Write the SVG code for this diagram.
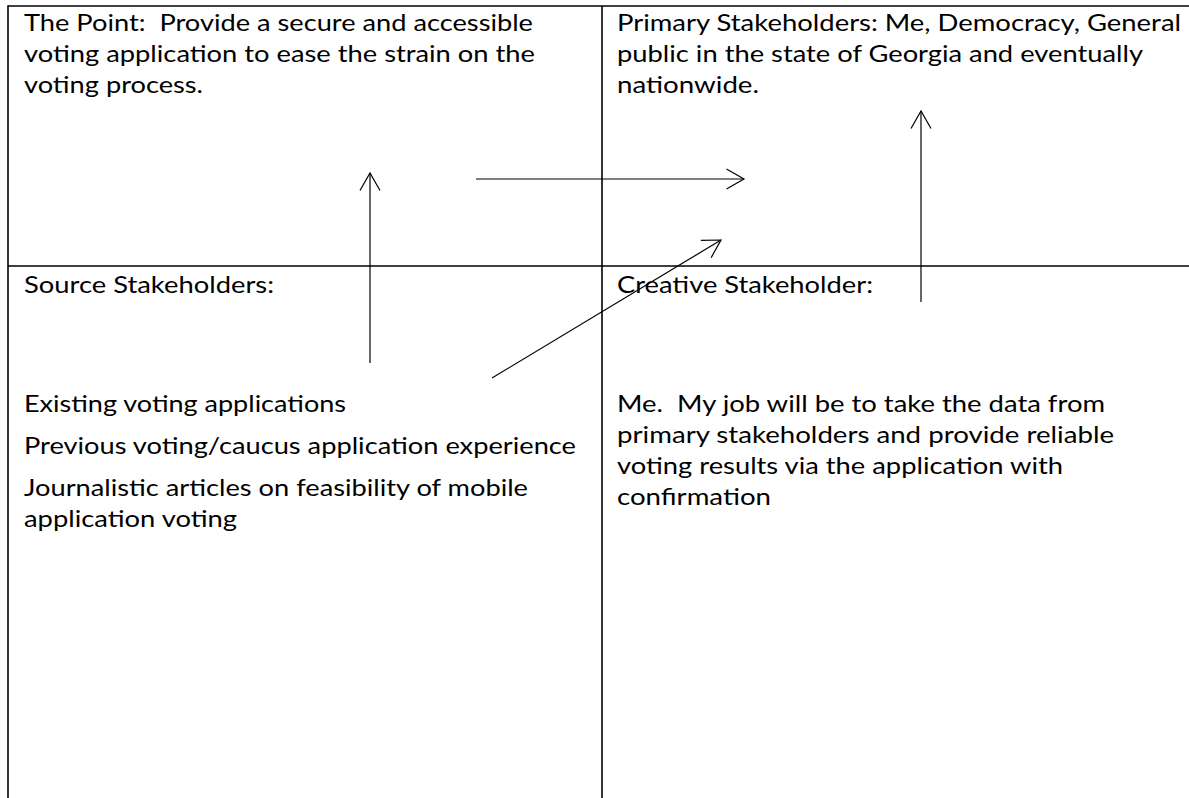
<svg xmlns="http://www.w3.org/2000/svg" width="1189" height="798" viewBox="0 0 1189 798">
  <style>
    .grid { stroke: #000; stroke-width: 1.6; fill: none; }
    .txt { font-family: Lato, "Open Sans", "Liberation Sans", sans-serif; font-size: 23.5px; fill: #000; }
    .arrow { stroke: #000; stroke-width: 1.2; fill: none; marker-end: url(#open); }
  </style>
  <defs>
    <marker id="open" markerUnits="userSpaceOnUse" markerWidth="24" markerHeight="24" viewBox="-20 -12 24 24" refX="0" refY="0" orient="auto" overflow="visible">
      <path d="M-17.5,-10 L0,0 L-17.5,10" fill="none" stroke="#000" stroke-width="1.2"/>
    </marker>
  </defs>
  <rect width="1189" height="798" fill="#fff"/>
  <g id="table">
    <line class="grid" x1="8" y1="6" x2="1189" y2="6"/>
    <line class="grid" x1="8" y1="266" x2="1189" y2="266"/>
    <line class="grid" x1="8" y1="5.2" x2="8" y2="798"/>
    <line class="grid" x1="602" y1="6" x2="602" y2="798"/>
  </g>
  <g id="the-point" class="txt">
    <text x="24" y="31" textLength="509" lengthAdjust="spacingAndGlyphs" xml:space="preserve">The Point:  Provide a secure and accessible</text>
    <text x="24" y="62" textLength="511" lengthAdjust="spacingAndGlyphs">voting application to ease the strain on the</text>
    <text x="24" y="93" textLength="179" lengthAdjust="spacingAndGlyphs">voting process.</text>
  </g>
  <g id="primary-stakeholders" class="txt">
    <text x="617" y="31" textLength="564" lengthAdjust="spacingAndGlyphs">Primary Stakeholders: Me, Democracy, General</text>
    <text x="617" y="62" textLength="526" lengthAdjust="spacingAndGlyphs">public in the state of Georgia and eventually</text>
    <text x="617" y="93" textLength="142" lengthAdjust="spacingAndGlyphs">nationwide.</text>
  </g>
  <g id="source-stakeholders" class="txt">
    <text x="24" y="293" textLength="250" lengthAdjust="spacingAndGlyphs">Source Stakeholders:</text>
    <text x="24" y="412" textLength="322" lengthAdjust="spacingAndGlyphs">Existing voting applications</text>
    <text x="24" y="454" textLength="552" lengthAdjust="spacingAndGlyphs">Previous voting/caucus application experience</text>
    <text x="24" y="496" textLength="504" lengthAdjust="spacingAndGlyphs">Journalistic articles on feasibility of mobile</text>
    <text x="24" y="527" textLength="213" lengthAdjust="spacingAndGlyphs">application voting</text>
  </g>
  <g id="creative-stakeholder" class="txt">
    <text x="617" y="293" textLength="256" lengthAdjust="spacingAndGlyphs">Creative Stakeholder:</text>
    <text x="617" y="412" textLength="488" lengthAdjust="spacingAndGlyphs" xml:space="preserve">Me.  My job will be to take the data from</text>
    <text x="617" y="443" textLength="497" lengthAdjust="spacingAndGlyphs">primary stakeholders and provide reliable</text>
    <text x="617" y="474" textLength="446" lengthAdjust="spacingAndGlyphs">voting results via the application with</text>
    <text x="617" y="505" textLength="154" lengthAdjust="spacingAndGlyphs">confirmation</text>
  </g>
  <g id="connectors">
    <line class="arrow" x1="370" y1="363" x2="370" y2="173"/>
    <line class="arrow" x1="476" y1="179" x2="744" y2="179"/>
    <line class="arrow" x1="492" y1="378" x2="721" y2="240"/>
    <line class="arrow" x1="921" y1="302" x2="921" y2="111"/>
  </g>
</svg>
